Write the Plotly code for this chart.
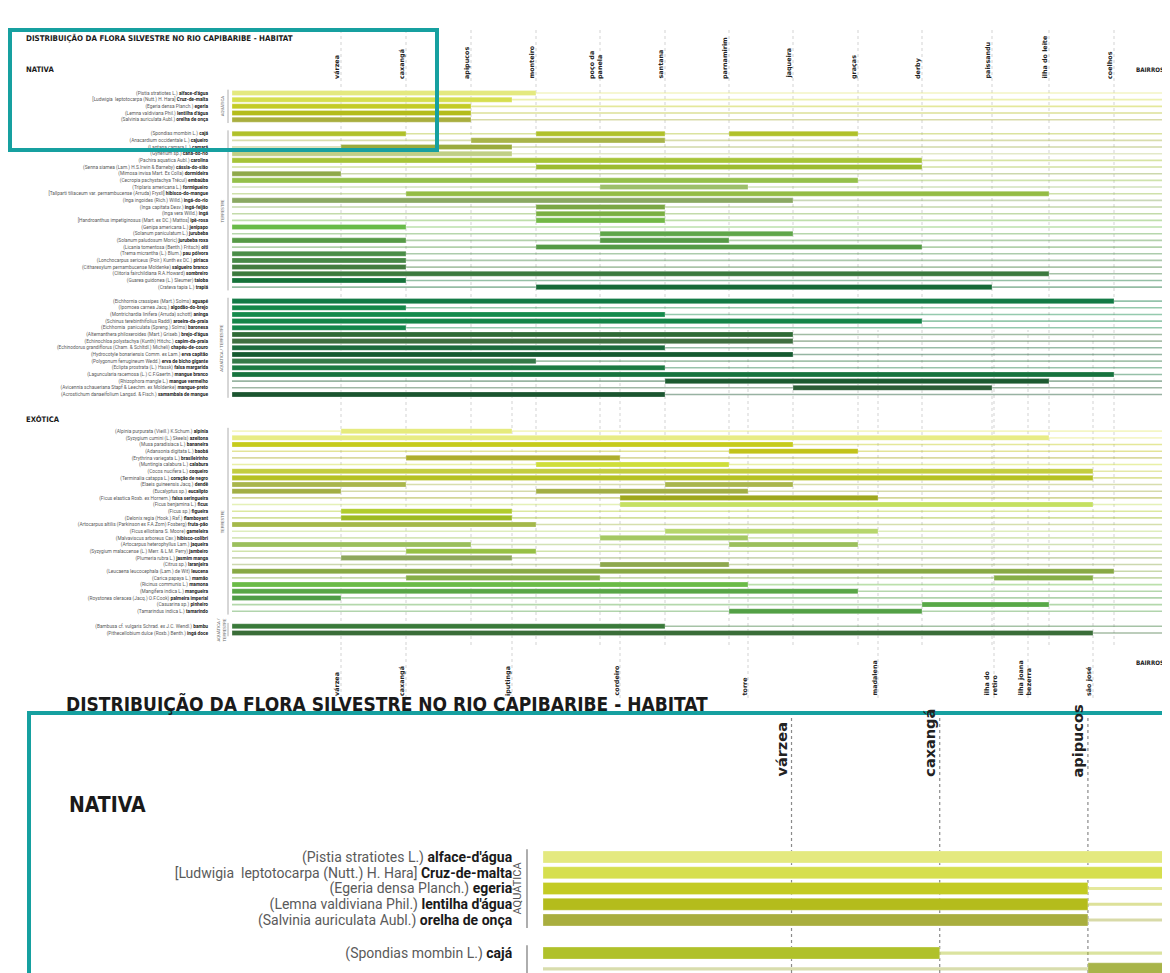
import plotly.graph_objects as go

# page body adds an 8px margin; figure fills the rest of the 1170x973 window
OFF = 8
W, H = 1170 - OFF, 973 - OFF

# ---------------- districts along the river (distance from start of stretch) -------------
top_districts = ["várzea", "caxangá", "apipucos", "monteiro", "poço da panela", "santana",
                 "parnamirim", "jaqueira", "graças", "derby", "paissandu", "ilha do leite", "coelhos"]
top_positions = [109, 174, 239, 304, 368, 433, 497, 561, 626, 690, 760, 817, 882]
bottom_districts = ["várzea", "caxangá", "iputinga", "cordeiro", "torre", "madalena",
                    "ilha do retiro", "ilha joana bezerra", "são josé"]
bottom_positions = [109, 174, 280, 388, 516, 646, 762, 796, 861]
river_length = 933

# ---------------- NATIVA / AQUÁTICA ----------------
nat_aq_sci = ["(Pistia stratiotes L.)", "[Ludwigia  leptotocarpa (Nutt.) H. Hara]", "(Egeria densa Planch.)",
              "(Lemna valdiviana Phil.)", "(Salvinia auriculata Aubl.)"]
nat_aq_common = ["alface-d'água", "Cruz-de-malta", "egeria", "lentilha d'água", "orelha de onça"]
nat_aq_ranges = [[("início", "monteiro")], [("início", "iputinga")], [("início", "apipucos")],
                 [("início", "apipucos")], [("início", "apipucos")]]
nat_aq_colors = ["#e4e97f", "#d6df4e", "#c3cb24", "#b4bc1c", "#a9ae3e"]

# ---------------- NATIVA / TERRESTRE ----------------
nat_te_sci = ["(Spondias mombin L.)", "(Anacardium occidentale L.)", "(Lantana camara L.)", "(Gynerium sp.)",
              "(Pachira aquatica Aubl.)", "(Senna siamea (Lam.) H.S.Irwin & Barneby)",
              "(Mimosa invisa Mart. Ex Colla)", "(Cecropia pachystachya Trécul)", "(Triplaris americana L.)",
              "[Tallparti tiliaceum var. pernambucense (Arruda) Fryxll]", "(Inga ingoides (Rich.) Willd.)",
              "(Inga capitata Desv.)", "(Inga vera Willd.)", "[Handroanthus impetiginosus (Mart. ex DC.) Mattos]",
              "(Genipa americana L.)", "(Solanum paniculatum L.)", "(Solanum paludosum Moric)",
              "(Licania tomentosa (Benth.) Fritsch)", "(Trema micrantha (L.) Blum.)",
              "(Lonchocarpus sericeus (Poir.) Kunth ex DC.)", "(Citharexylum pernambucense Moldenke)",
              "(Clitoria fairchildiana R.A.Howard)", "(Guarea guidonea (L.) Sleumer)", "(Crateva tapia L.)"]
nat_te_common = ["cajá", "cajueiro", "camará", "cana-do-rio", "carolina", "cássia-do-sião", "dormideira",
                 "embaúba", "formigueiro", "hibisco-do-mangue", "ingá-do-rio", "ingá-feijão", "ingá",
                 "ipê-rosa", "jenipapo", "jurubeba", "jurubeba roxa", "oiti", "pau pólvora", "piriaca",
                 "salgueiro branco", "sombreiro", "taioba", "trapiá"]
nat_te_ranges = [
    [("início", "caxangá"), ("monteiro", "santana"), ("parnamirim", "graças")],
    [("apipucos", "santana")],
    [("várzea", "iputinga")],
    [("início", "iputinga")],
    [("início", "derby")],
    [("monteiro", "derby")],
    [("início", "várzea")],
    [("início", "graças")],
    [("poço da panela", "torre")],
    [("caxangá", "ilha do leite")],
    [("início", "jaqueira")],
    [("monteiro", "santana")],
    [("monteiro", "santana")],
    [("monteiro", "santana")],
    [("início", "caxangá")],
    [("poço da panela", "jaqueira")],
    [("início", "caxangá"), ("poço da panela", "parnamirim")],
    [("monteiro", "derby")],
    [("início", "caxangá")],
    [("início", "caxangá")],
    [("início", "caxangá")],
    [("início", "ilha do leite")],
    [("início", "caxangá")],
    [("monteiro", "paissandu")],
]
nat_te_colors = ["#b0c12a", "#a8b449", "#9aab3d", "#c0cf85", "#a6c436", "#9cbb30", "#8fa94a", "#94c04a",
                 "#9cbf6a", "#94bc44", "#8aa862", "#7aa744", "#7aaf42", "#72b846", "#68bb48", "#5fa64a",
                 "#569a46", "#549a45", "#4a8d47", "#478846", "#427c3e", "#3c7a3e", "#15733a", "#146a36"]

# ---------------- NATIVA / AQUÁTICA-TERRESTRE ----------------
nat_at_sci = ["(Eichhornia crassipes (Mart.) Solms)", "(Ipomoea carnea Jacq.)",
              "(Montrichardia linifera (Arruda) schott)", "(Schinus terebinthifolius Raddi)",
              "(Eichhornia  paniculata (Spreng.) Solms)", "(Alternanthera philoxeroides (Mart.) Griseb.)",
              "(Echinochloa polystachya (Kunth) Hitchc.)",
              "(Echinodorus grandiflorus (Cham. & Schltdl.) Micheli)", "(Hydrocotyle bonariensis Comm. ex Lam.)",
              "(Polygonum ferrugineum Wedd.)", "(Eclipta prostrata (L.) Hassk)",
              "(Laguncularia racemosa (L.) C.F.Gaertn.)", "(Rhizophora mangle L.)",
              "(Avicennia schaueriana Stapf & Leechm. ex Moldenke)",
              "(Acrostichum danaeifolium Langsd. & Fisch.)"]
nat_at_common = ["aguapé", "algodão-do-brejo", "aninga", "aroeira-da-praia", "baronesa", "brejo-d'água",
                 "capim-da-praia", "chapéu-de-couro", "erva capitão", "erva de bicho gigante",
                 "falsa margarida", "mangue branco", "mangue vermelho", "mangue-preto", "samambaia de mangue"]
nat_at_ranges = [
    [("início", "coelhos")],
    [("início", "caxangá")],
    [("início", "santana")],
    [("início", "derby")],
    [("início", "caxangá")],
    [("início", "jaqueira")],
    [("início", "jaqueira")],
    [("início", "santana")],
    [("início", "jaqueira")],
    [("início", "monteiro")],
    [("início", "santana")],
    [("início", "coelhos")],
    [("santana", "ilha do leite")],
    [("jaqueira", "paissandu")],
    [("início", "santana")],
]
nat_at_colors = ["#127a45", "#138748", "#158a4c", "#148548", "#12864a", "#2f6a36", "#3f6f40", "#1b6b3c",
                 "#155a30", "#357a48", "#1b7a42", "#17733e", "#1c5a30", "#2b5d36", "#1b5530"]

# ---------------- EXÓTICA / TERRESTRE ----------------
exo_te_sci = ["(Alpinia purpurata (Vieill.) K.Schum.)", "(Syzygium cumini (L.) Skeels)", "(Musa paradisiaca L.)",
              "(Adansonia digitata L.)", "(Erythrina variegata L.)", "(Muntingia calabura L.)",
              "(Cocos nucifera L.)", "(Terminalia catappa L.)", "(Elaeis guineensis Jacq.)", "(Eucalyptus sp.)",
              "(Ficus elastica Roxb. ex Hornem.)", "(Ficus benjamina L.)", "(Ficus sp.)",
              "(Delonix regia (Hook.) Raf.)", "(Artocarpus altilis (Parkinson ex F.A.Zorn) Fosberg)",
              "(Ficus elliotiana S. Moore)", "(Malvaviscus arboreus Cav.)", "(Artocarpus heterophyllus Lam.)",
              "(Syzygium malaccense (L.) Merr. & L.M. Perry)", "(Plumeria rubra L.)", "(Citrus sp.)",
              "(Leucaena leucocephala (Lam.) de Wit)", "(Carica papaya L.)", "(Ricinus communis L.)",
              "(Mangifera indica L.)", "(Roystonea oleracea (Jacq.) O.F.Cook)", "(Casuarina sp.)",
              "(Tamarindus indica L.)"]
exo_te_common = ["alpínia", "azeitona", "bananeira", "baobá", "brasileirinho", "calabura", "coqueiro",
                 "coração de negro", "dendê", "eucalipto", "falsa seringueira", "ficus", "figueira",
                 "flamboyant", "fruta-pão", "gameleira", "hibisco-colibri", "jaqueira", "jambeiro",
                 "jasmim manga", "laranjeira", "leucena", "mamão", "mamona", "mangueira",
                 "palmeira imperial", "pinheiro", "tamarindo"]
exo_te_ranges = [
    [("várzea", "iputinga")],
    [("início", "ilha do leite")],
    [("início", "jaqueira")],
    [("parnamirim", "graças")],
    [("caxangá", "cordeiro")],
    [("monteiro", "parnamirim")],
    [("início", "são josé")],
    [("início", "são josé")],
    [("início", "caxangá"), ("santana", "jaqueira")],
    [("início", "várzea"), ("monteiro", "torre")],
    [("cordeiro", "madalena")],
    [("cordeiro", "são josé")],
    [("várzea", "iputinga")],
    [("várzea", "iputinga")],
    [("início", "monteiro")],
    [("santana", "madalena")],
    [("poço da panela", "torre")],
    [("início", "apipucos"), ("parnamirim", "graças")],
    [("caxangá", "monteiro")],
    [("várzea", "iputinga")],
    [("poço da panela", "parnamirim")],
    [("início", "coelhos")],
    [("caxangá", "poço da panela"), ("ilha do retiro", "são josé")],
    [("início", "torre")],
    [("início", "graças")],
    [("início", "várzea")],
    [("derby", "ilha do leite")],
    [("parnamirim", "derby")],
]
exo_te_colors = ["#e6eb7c", "#e8ec84", "#c6cb1c", "#c2c31a", "#aeae2c", "#cfde3a", "#c3cd3f", "#b5c122",
                 "#a9b64c", "#a2ae44", "#9ea71c", "#c5e062", "#b1cc2c", "#9dba22", "#a4b84a", "#b6d66c",
                 "#a4c862", "#9bbf5c", "#96c044", "#8ea75c", "#8ea84e", "#88a944", "#86ae46", "#6bbb47",
                 "#58a646", "#4f9d46", "#58a847", "#53a046"]

# ---------------- EXÓTICA / AQUÁTICA-TERRESTRE ----------------
exo_at_sci = ["(Bambusa cf. vulgaris Schrad. ex J.C. Wendl.)", "(Pithecellobium dulce (Roxb.) Benth.)"]
exo_at_common = ["bambu", "ingá doce"]
exo_at_ranges = [[("início", "santana")], [("início", "são josé")]]
exo_at_colors = ["#3a7a3a", "#3a6d38"]

# ---------------------------------------------------------------------------------------
pos = {"início": 0}
pos.update(dict(zip(top_districts, top_positions)))
pos.update(dict(zip(bottom_districts, bottom_positions)))

groups = [
    ("AQUÁTICA", nat_aq_sci, nat_aq_common, nat_aq_ranges, nat_aq_colors, 0.0),
    ("TERRESTRE", nat_te_sci, nat_te_common, nat_te_ranges, nat_te_colors, 2.1),
    ("AQUÁTICA / TERRESTRE", nat_at_sci, nat_at_common, nat_at_ranges, nat_at_colors, 2.1),
    ("TERRESTRE", exo_te_sci, exo_te_common, exo_te_ranges, exo_te_colors, 5.5),
    ("AQUÁTICA /<br>TERRESTRE", exo_at_sci, exo_at_common, exo_at_ranges, exo_at_colors, 2.25),
]


def rgba(hexc, a):
    h = hexc.lstrip("#")
    return "rgba(%d,%d,%d,%.2f)" % (int(h[0:2], 16), int(h[2:4], 16), int(h[4:6], 16), a)


slots, ticktexts, row_cols = [], [], []
seg_base, seg_len, seg_y, seg_col = [], [], [], []
group_spans = []
cur = None
for gname, sci, com, rng, cols, gap in groups:
    first = None
    for s, c, r, col in zip(sci, com, rng, cols):
        cur = 0.0 if cur is None else cur + (gap if first is None else 1.0)
        if first is None:
            first = cur
        slots.append(cur)
        ticktexts.append("<span style='color:#5a5a5a'>%s</span> <b>%s</b>" % (s, c))
        row_cols.append(col)
        for a, b in r:
            seg_base.append(pos[a])
            seg_len.append(pos[b] - pos[a])
            seg_y.append(cur)
            seg_col.append(col)
    group_spans.append((gname, first, cur))


def px_x(p):
    return (p - OFF) / W


def px_y(p):
    return 1 - (p - OFF) / H


FONT = "Roboto, 'Liberation Sans', sans-serif"
COND = "'Liberation Sans Narrow', 'DejaVu Sans Condensed', sans-serif"
BOLDF = "'DejaVu Sans', sans-serif"
TEAL = "#16a0a0"

fig = go.Figure()
for xa, ya, lw in (("x", "y", 0.24), ("x2", "y2", 0.2)):
    fig.add_trace(go.Bar(orientation="h", y=slots, base=[0] * len(slots), x=[river_length] * len(slots),
                         width=lw, marker=dict(color=[rgba(c, 0.45) for c in row_cols], line=dict(width=0)),
                         xaxis=xa, yaxis=ya, showlegend=False, hoverinfo="skip"))
    fig.add_trace(go.Bar(orientation="h", y=seg_y, base=seg_base, x=seg_len, width=0.76,
                         marker=dict(color=seg_col, line=dict(width=0.5, color="rgba(255,255,255,0.55)")),
                         xaxis=xa, yaxis=ya, showlegend=False))

# main axes
main_top, main_bot = 88, 640
slot_px = 6.67
row0 = 93
fig.update_layout(
    xaxis=dict(domain=[px_x(232), px_x(1165)], range=[0, river_length], visible=False, fixedrange=True),
    yaxis=dict(domain=[px_y(main_bot), px_y(main_top)],
               range=[(main_bot - row0) / slot_px, (main_top - row0) / slot_px],
               tickvals=slots, ticktext=ticktexts, tickfont=dict(size=4.8, family=FONT, color="#1a1a1a"),
               ticks="outside", ticklen=22, tickcolor="rgba(0,0,0,0)", showgrid=False, zeroline=False,
               showline=False, automargin=False),
)
# inset axes
ins_left, ins_right, ins_top, ins_bot = 543, 1162, 845, 973
ins_scale_x = 2.28
ins_slot = 15.75
ins_row0 = 857
ins_range_x = (ins_right - ins_left) / ins_scale_x
fig.update_layout(
    xaxis2=dict(domain=[px_x(ins_left), px_x(ins_right)], range=[0, ins_range_x], visible=False,
                anchor="y2"),
    yaxis2=dict(domain=[0, px_y(ins_top)],
                range=[(ins_bot - ins_row0) / ins_slot, (ins_top - ins_row0) / ins_slot],
                tickvals=slots, ticktext=ticktexts, tickfont=dict(size=14, family=FONT, color="#1a1a1a"),
                ticks="outside", ticklen=27, tickcolor="rgba(0,0,0,0)", showgrid=False, zeroline=False,
                showline=False, automargin=False, anchor="x2"),
)

shapes, ann = [], []
display = {"poço da panela": "poço da<br>panela", "ilha do retiro": "ilha do<br>retiro",
           "ilha joana bezerra": "ilha joana<br>bezerra"}


def label(text, x, y, xref="paper", yref="paper", xanchor="center", yanchor="middle", **kw):
    d = dict(text=text, x=x, y=y, xref=xref, yref=yref, xanchor=xanchor, yanchor=yanchor, showarrow=False)
    d.update(kw)
    return d


# gridlines + district labels (main)
for name, p in zip(top_districts, top_positions):
    shapes.append(dict(type="line", xref="x", yref="paper", x0=p, x1=p, y0=px_y(645), y1=px_y(30),
                       line=dict(color="#c8c8c8", width=0.8, dash="dot"), layer="below"))
    ann.append(label("<b>%s</b>" % display.get(name, name), p, px_y(81), xref="x", yanchor="bottom",
                     textangle=-90, xshift=-4, align="left", font=dict(size=6.4, family=BOLDF, color="#222")))
for name, p in zip(bottom_districts, bottom_positions):
    y_top = 330 if name not in top_districts else 645
    shapes.append(dict(type="line", xref="x", yref="paper", x0=p, x1=p, y0=px_y(698), y1=px_y(y_top),
                       line=dict(color="#c8c8c8", width=0.8, dash="dot"), layer="below"))
    ann.append(label("<b>%s</b>" % display.get(name, name), p, px_y(698), xref="x", yanchor="bottom",
                     textangle=-90, xshift=-4, align="left", font=dict(size=6.4, family=BOLDF, color="#222")))

for yy in (70, 662):
    ann.append(label("<b>BAIRROS</b>", px_x(1150), px_y(yy), font=dict(size=6.2, family=COND, color="#222")))
ann.append(label("<b>DISTRIBUIÇÃO DA FLORA SILVESTRE NO RIO CAPIBARIBE - HABITAT</b>", px_x(24), px_y(38),
                 xanchor="left", font=dict(size=7.9, family=COND, color="#1a1a1a")))
ann.append(label("<b>NATIVA</b>", px_x(24), px_y(70), xanchor="left",
                 font=dict(size=7.6, family=COND, color="#1a1a1a")))
ann.append(label("<b>EXÓTICA</b>", px_x(24), px_y(419), xanchor="left",
                 font=dict(size=7.6, family=COND, color="#1a1a1a")))

# group brackets and labels (main + inset)
ins_ymax = (ins_bot - ins_row0) / ins_slot
for gname, a, b in group_spans:
    shapes.append(dict(type="line", xref="paper", yref="y", x0=px_x(228), x1=px_x(228), y0=a - 0.5,
                       y1=b + 0.5, line=dict(color="#9a9a9a", width=0.8)))
    ann.append(label(gname, px_x(222), (a + b) / 2, yref="y", textangle=-90,
                     font=dict(size=4.3, family=FONT, color="#666")))
    if a < ins_ymax:
        shapes.append(dict(type="line", xref="paper", yref="y2", x0=px_x(527), x1=px_x(527), y0=a - 0.5,
                           y1=min(b + 0.5, ins_ymax + 1), line=dict(color="#777", width=1.2)))
        if (a + b) / 2 < ins_ymax:
            ann.append(label(gname, px_x(517), (a + b) / 2, yref="y2", textangle=-90,
                             font=dict(size=11, family=FONT, color="#555")))

# inset gridlines + labels
for name, p in zip(top_districts, top_positions):
    if p < ins_range_x:
        shapes.append(dict(type="line", xref="x2", yref="paper", x0=p, x1=p, y0=0, y1=px_y(715),
                           line=dict(color="#8a8a8a", width=1.2, dash="dot"), layer="below"))
        ann.append(label("<b>%s</b>" % name, p, px_y(779), xref="x2", yanchor="bottom", textangle=-90,
                         xshift=-10, font=dict(size=14.5, family=BOLDF, color="#222")))
ann.append(label("<b>DISTRIBUIÇÃO DA FLORA SILVESTRE NO RIO CAPIBARIBE - HABITAT</b>", px_x(64), px_y(703),
                 xanchor="left", font=dict(size=19, family=COND, color="#1a1a1a")))
ann.append(label("<b>NATIVA</b>", px_x(67), px_y(805), xanchor="left",
                 font=dict(size=21, family=COND, color="#1a1a1a")))

# teal frames
shapes.append(dict(type="rect", xref="paper", yref="paper", x0=px_x(10), x1=px_x(437), y0=px_y(150),
                   y1=px_y(30), line=dict(color=TEAL, width=4)))
shapes.append(dict(type="rect", xref="paper", yref="paper", x0=px_x(29), x1=px_x(1164), y0=px_y(990),
                   y1=px_y(713), line=dict(color=TEAL, width=4)))

fig.update_layout(width=W, height=H, margin=dict(l=0, r=0, t=0, b=0), paper_bgcolor="white",
                  plot_bgcolor="rgba(0,0,0,0)", barmode="overlay", shapes=shapes, annotations=ann,
                  showlegend=False, font=dict(family=FONT))
fig.write_html("out.html")
